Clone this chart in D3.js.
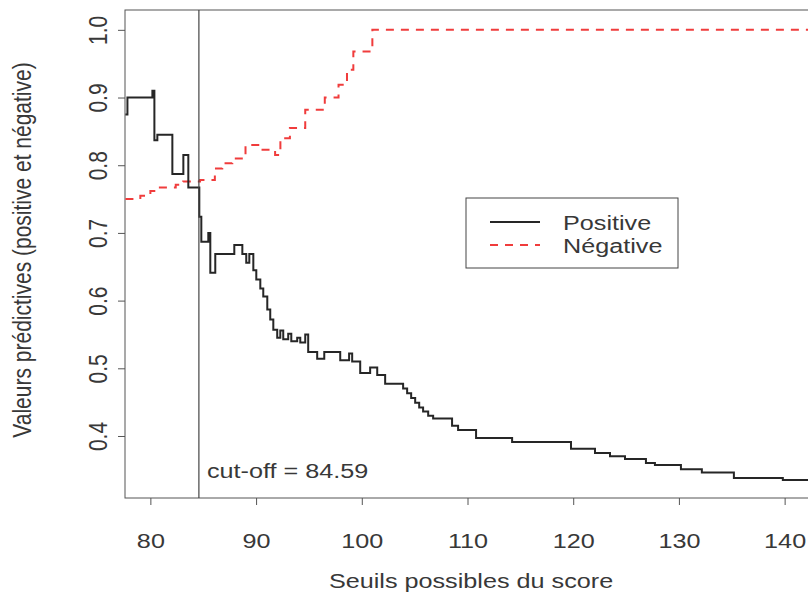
<!DOCTYPE html>
<html lang="fr">
<head>
<meta charset="UTF-8">
<title>Valeurs prédictives</title>
<script src="https://d3js.org/d3.v7.min.js"></script>
<style>
  body { margin: 0; background: #fff; }
  svg { display: block; font-family: "Liberation Sans", Arial, sans-serif; }
  text { fill: #383838; }
</style>
</head>
<body>
<div id="chart"></div>
<script>
// seuils et valeurs (fonctions en escalier)
const posX = [77.64, 77.83, 80.19, 80.38, 80.66, 82.08, 83.12, 83.59, 84.63, 84.82,
  85.48, 85.67, 86.14, 87.94, 88.70, 89.07, 89.36, 89.74, 90.02, 90.40,
  90.68, 91.06, 91.34, 91.63, 92.00, 92.29, 92.57, 93.04, 93.33, 93.89,
  94.18, 94.65, 94.93, 95.78, 96.45, 97.96, 98.80, 99.09, 99.85, 100.79,
  101.46, 102.21, 103.91, 104.29, 104.67, 105.05, 105.43, 105.80, 106.28, 106.75,
  108.54, 109.11, 110.81, 114.22, 119.79, 122.06, 123.48, 124.90, 126.88, 127.73,
  130.19, 132.17, 135.20, 139.83, 142.40];
const posY = [0.875, 0.900, 0.910, 0.837, 0.845, 0.787, 0.815, 0.767, 0.724, 0.687,
  0.700, 0.641, 0.669, 0.682, 0.669, 0.656, 0.669, 0.645, 0.631, 0.618,
  0.606, 0.587, 0.572, 0.557, 0.545, 0.556, 0.543, 0.551, 0.540, 0.545,
  0.538, 0.550, 0.524, 0.514, 0.524, 0.512, 0.522, 0.510, 0.493, 0.501,
  0.490, 0.477, 0.470, 0.463, 0.456, 0.449, 0.442, 0.436, 0.430, 0.426,
  0.415, 0.409, 0.397, 0.391, 0.381, 0.375, 0.370, 0.366, 0.360, 0.357,
  0.351, 0.346, 0.338, 0.335, 0.335];

const negX = [77.64, 79.05, 80.0, 80.9, 82.4, 83.1, 84.7, 86.1, 86.8, 87.75,
  89.0, 90.4, 91.8, 92.3, 93.2, 94.65, 96.5, 97.8, 98.6, 99.2, 101.0, 142.4];
const negY = [0.750, 0.755, 0.762, 0.767, 0.771, 0.776, 0.778, 0.795, 0.803, 0.810,
  0.830, 0.823, 0.815, 0.840, 0.855, 0.882, 0.900, 0.919, 0.941, 0.968, 1.000, 1.000];

const xTicks = [80, 90, 100, 110, 120, 130, 140];
const yTicks = [0.4, 0.5, 0.6, 0.7, 0.8, 0.9, 1.0];
const cutoff = 84.59;
const seriesNames = ["Positive", "Négative"];

const width = 808, height = 599;
const plot = { left: 125, right: 810, top: 10, bottom: 498 };
const fs = 21;      // taille du texte
const sx = 1.2;     // le texte de la figure est étiré en largeur

const svg = d3.select("#chart").append("svg")
  .attr("width", width)
  .attr("height", height);

const x = d3.scaleLinear().domain([77.6, 142.4]).range([plot.left, plot.right]);
const y = d3.scaleLinear().domain([0.3084, 1.0293]).range([plot.bottom, plot.top]);

// axes
const xAxis = svg.append("g")
  .attr("transform", `translate(0,${plot.bottom})`)
  .call(d3.axisBottom(x).tickValues(xTicks).tickSize(7).tickPadding(28).tickFormat(d3.format("d")));
const yAxis = svg.append("g")
  .attr("transform", `translate(${plot.left},0)`)
  .call(d3.axisLeft(y).tickValues(yTicks).tickSize(7).tickFormat(d3.format(".1f")));

[xAxis, yAxis].forEach(g => {
  g.select(".domain").remove();
  g.selectAll("line").attr("stroke", "#555");
  g.selectAll("text").style("font-size", fs + "px").attr("fill", "#383838");
});
xAxis.selectAll(".tick text").attr("transform", `scale(${sx},1)`);
yAxis.selectAll(".tick text")
  .attr("x", null).attr("dy", null)
  .attr("text-anchor", "middle")
  .attr("transform", `translate(-18,0) rotate(-90) scale(1,${sx})`)
  .attr("y", 0);

// cadre
svg.append("rect")
  .attr("x", plot.left).attr("y", plot.top)
  .attr("width", plot.right - plot.left).attr("height", plot.bottom - plot.top)
  .attr("fill", "none").attr("stroke", "#555").attr("stroke-width", 1);

function label(px, py, txt, anchor) {
  return svg.append("text")
    .attr("transform", `translate(${px},${py}) scale(${sx},1)`)
    .attr("text-anchor", anchor || "start")
    .style("font-size", fs + "px")
    .text(txt);
}

// titres
label(471, 588, "Seuils possibles du score", "middle");
svg.append("text")
  .attr("transform", `translate(31,250) rotate(-90) scale(1,${sx})`)
  .attr("text-anchor", "middle")
  .style("font-size", fs + "px")
  .text("Valeurs prédictives (positive et négative)");

// courbes en escalier
const line = d3.line()
  .x(d => x(d[0]))
  .y(d => y(d[1]))
  .curve(d3.curveStepAfter);

svg.append("path")
  .datum(d3.zip(negX, negY))
  .attr("d", line)
  .attr("fill", "none")
  .attr("stroke", "#f03c3c")
  .attr("stroke-width", 2)
  .attr("stroke-dasharray", "8,7");

svg.append("path")
  .datum(d3.zip(posX, posY))
  .attr("d", line)
  .attr("fill", "none")
  .attr("stroke", "#262626")
  .attr("stroke-width", 2);

// seuil optimal
svg.append("line")
  .attr("x1", x(cutoff)).attr("x2", x(cutoff))
  .attr("y1", plot.top).attr("y2", plot.bottom)
  .attr("stroke", "#444").attr("stroke-width", 1.2);
label(x(cutoff) + 8, 478, "cut-off = " + cutoff);

// légende
svg.append("rect")
  .attr("x", 466).attr("y", 198)
  .attr("width", 212).attr("height", 70)
  .attr("fill", "#fff").attr("stroke", "#444").attr("stroke-width", 1);
const styles = [{ stroke: "#262626", dash: null }, { stroke: "#f03c3c", dash: "8,7" }];
seriesNames.forEach((name, i) => {
  const yy = 222 + i * 23;
  svg.append("line")
    .attr("x1", 490).attr("x2", 540)
    .attr("y1", yy).attr("y2", yy)
    .attr("stroke", styles[i].stroke)
    .attr("stroke-width", 2)
    .attr("stroke-dasharray", styles[i].dash);
  label(563, yy + 8, name);
});
</script>
</body>
</html>
